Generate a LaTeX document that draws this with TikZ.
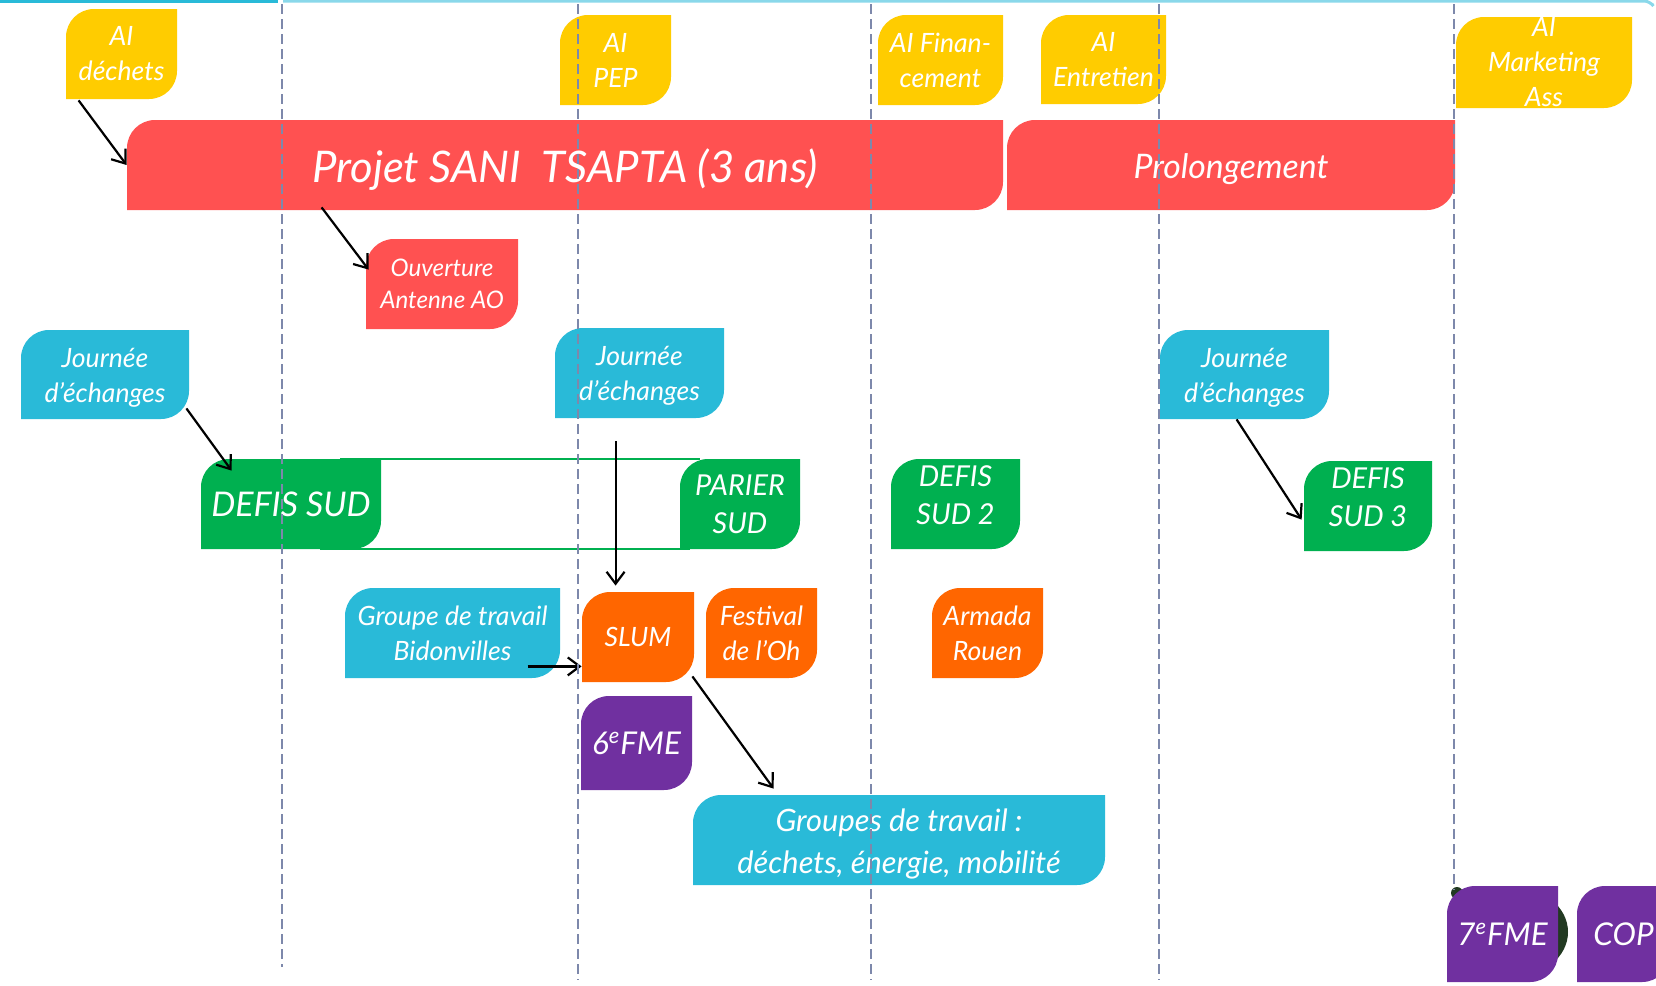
\documentclass[tikz,border=0pt]{standalone}
\usepackage{fontspec}
\setmainfont{Lato}
\usetikzlibrary{arrows.meta,calc}
\definecolor{cyellow}{HTML}{FFCC00}
\definecolor{cred}{HTML}{FF5151}
\definecolor{ccyan}{HTML}{29BAD8}
\definecolor{clcyan}{HTML}{8AD8EA}
\definecolor{cgreen}{HTML}{00B050}
\definecolor{corange}{HTML}{FF6600}
\definecolor{cpurple}{HTML}{7030A0}
\definecolor{cdash}{HTML}{7D88AB}
\definecolor{cglobe}{HTML}{223A22}
\newcommand\leafrad{28}
\newcommand\leafbox[8]{%
  \fill[#6] (#2,#5) -- (#2,#3+\leafrad) .. controls (#2,#3+0.448*\leafrad) and (#2+0.448*\leafrad,#3) .. (#2+\leafrad,#3) -- (#4,#3) -- (#4,#5-\leafrad) .. controls (#4,#5-0.448*\leafrad) and (#4-0.448*\leafrad,#5) .. (#4-\leafrad,#5) -- cycle;
  \node[inner sep=0pt,minimum width={(#4-#2)*0.5pt},minimum height={(#5-#3)*0.5pt}] (#1) at ({(#2+#4)/2},{(#3+#5)/2}) {};%
  \node[boxtext,#7] (#1-t) at (#1) {#8};%
}
\tikzset{
  boxtext/.style={inner sep=0pt, text=white, align=center, font=\itshape\fontsize{13.3}{17.5}\selectfont},
  txtjour/.style={yshift=-1.5pt},
  txtouv/.style={font=\itshape\fontsize{12.1}{16}\selectfont},
  txtmid/.style={font=\itshape\fontsize{14.4}{19}\selectfont},
  txtmidup/.style={txtmid, yshift=4.5pt},
  txtbig/.style={font=\itshape\fontsize{17}{21}\selectfont},
  txtfme/.style={font=\itshape\fontsize{15.7}{18}\selectfont},
  txtgt/.style={font=\itshape\fontsize{15.4}{21}\selectfont, yshift=-2pt},
  txtprojet/.style={font=\itshape\fontsize{21.8}{26}\selectfont, yshift=-2.5pt},
  txtprol/.style={font=\itshape\fontsize{16.9}{21}\selectfont, yshift=-2pt},
  conn/.style={-{Straight Barb[length=6pt,width=9pt]}, line width=1.1pt, draw=black},
  vline/.style={draw=cdash, line width=0.9pt, dash pattern=on 5pt off 2.5pt},
  gline/.style={draw=cgreen, line width=0.9pt},
}
\begin{document}
\begin{tikzpicture}[x=0.5pt,y=-0.5pt]
\useasboundingbox (0,0) rectangle (1656,986);
\clip (0,0) rectangle (1656,986);
\fill[white] (0,0) rectangle (1656,986);
% top border line
\draw[ccyan, line width=1.5pt] (0,1) -- (278,1);
\draw[clcyan, line width=1.5pt, rounded corners=3pt] (283,1) -- (1650,1) -- (1652,4);

% yellow boxes
\leafbox{aidech}{66}{9}{177}{99}{cyellow}{}{AI\\déchets}
\leafbox{aipep}{560}{15}{671}{105}{cyellow}{}{AI\\PEP}
\leafbox{aifin}{878}{15}{1003}{105}{cyellow}{}{AI Finan-\\cement}
\leafbox{aient}{1041}{15}{1166}{104}{cyellow}{}{AI\\Entretien}
\leafbox{aimkt}{1456}{17}{1632}{108}{cyellow}{}{AI\\Marketing\\Ass}

% red boxes
\leafbox{projet}{127}{120}{1003}{210}{cred}{txtprojet}{Projet SANI\ \ TSAPTA (3 ans)}
\leafbox{prol}{1007}{120}{1455}{210}{cred}{txtprol}{Prolongement}
\leafbox{ouv}{366}{239}{518}{329}{cred}{txtouv}{Ouverture\\Antenne AO}

% journées
\leafbox{j1}{21}{330}{189}{419}{ccyan}{txtjour}{Journée\\d’échanges}
\leafbox{j2}{555}{328}{724}{418}{ccyan}{txtjour}{Journée\\d’échanges}
\leafbox{j3}{1160}{330}{1329}{419}{ccyan}{txtjour}{Journée\\d’échanges}

% green frame and boxes
\coordinate (gtl) at (340,459);
\coordinate (gbl) at (320,549);
\coordinate (gtr) at (700,459);
\coordinate (gbr) at (690,549);
\draw[gline] (gtl) -- (gtr);
\draw[gline] (gbl) -- (gbr);
\leafbox{defis}{201}{459}{381}{549}{cgreen}{txtbig}{DEFIS SUD}
\leafbox{parier}{680}{459}{800}{549}{cgreen}{txtmid}{PARIER\\SUD}
\leafbox{defis2}{891}{459}{1020}{549}{cgreen}{txtmidup}{DEFIS\\SUD 2}
\leafbox{defis3}{1304}{461}{1432}{551}{cgreen}{txtmidup}{DEFIS\\SUD 3}

% orange and cyan row
\leafbox{bid}{345}{588}{560}{678}{ccyan}{}{Groupe de travail\\Bidonvilles}
\leafbox{slum}{582}{592}{694}{682}{corange}{}{SLUM}
\leafbox{fest}{706}{588}{817}{678}{corange}{}{Festival\\de l’Oh}
\leafbox{armada}{932}{588}{1043}{678}{corange}{}{Armada\\Rouen}

% purple and bottom
\leafbox{fme6}{581}{696}{692}{790}{cpurple}{txtfme}{6\textsuperscript{e}FME}
\leafbox{gt}{693}{795}{1105}{885}{ccyan}{txtgt}{Groupes de travail :\\déchets, énergie, mobilité}
\fill[cglobe] (1513,932) ellipse [x radius=55, y radius=45];
\fill[cglobe] (1457,893) circle [radius=6];
\leafbox{fme7}{1447}{886}{1558}{982}{cpurple}{txtfme}{7\textsuperscript{e}FME}
\leafbox{cop}{1577}{886}{1670}{982}{cpurple}{txtfme}{COP}

% connectors
\draw[conn] ($(aidech.south west)+(13,1)$) -- ($(projet.west)$);
\draw[conn] ($(projet.south west)+(195,-3)$) -- ($(ouv.north west)+(3,31)$);
\draw[conn] ($(j1.south east)+(-3,-11)$) -- ($(defis.north west)+(31,12)$);
\draw[conn] ($(j2.south west)+(61,23)$) -- ($(slum.north west)+(34,-6)$);
\draw[conn] ($(bid.south west)+(183,-12)$) -- ($(slum.south west)+(0,-16)$);
\draw[conn] ($(slum.south east)+(-2,-6)$) -- ($(gt.north west)+(81,-6)$);
\draw[conn] ($(j3.south west)+(77,0)$) -- ($(defis3.north west)+(-2,59)$);

% dashed time lines (on top)
\draw[vline] (282,4) -- (282,967);
\draw[vline] (578,4) -- (578,980);
\draw[vline] (871,4) -- (871,980);
\draw[vline] (1159,4) -- (1159,980);
\draw[vline] (1454,4) -- (1454,890);
\end{tikzpicture}
\end{document}
